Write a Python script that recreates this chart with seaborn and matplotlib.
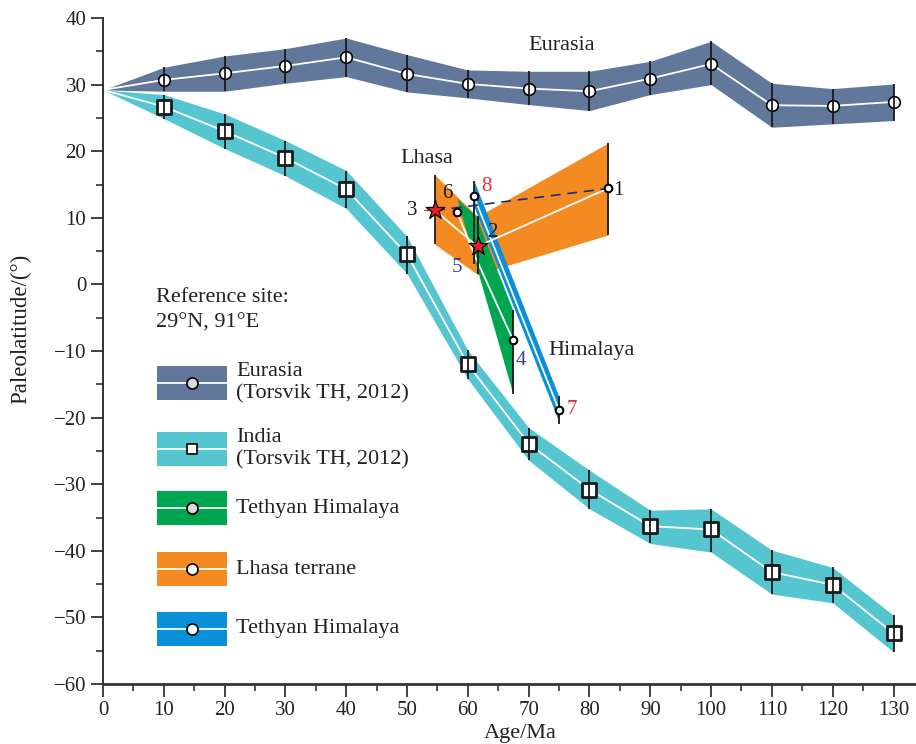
import numpy as np
import matplotlib
matplotlib.use("Agg")
import matplotlib.pyplot as plt
import seaborn as sns
from matplotlib.patches import Rectangle
from matplotlib.lines import Line2D

# ---------------- data ----------------
ages = [0, 10, 20, 30, 40, 50, 60, 70, 80, 90, 100, 110, 120, 130]

eurasia_lat = [29.2, 30.7, 31.7, 32.8, 34.1, 31.6, 30.1, 29.4, 29.0, 30.9, 33.1, 26.9, 26.8, 27.4]
eurasia_hi = [29.2, 32.6, 34.3, 35.4, 37.0, 34.5, 32.2, 32.0, 32.0, 33.5, 36.5, 30.2, 29.4, 30.1]
eurasia_lo = [29.2, 29.0, 29.0, 30.2, 31.2, 28.9, 28.0, 27.0, 26.1, 28.5, 30.0, 23.6, 24.1, 24.6]

india_lat = [29.2, 26.7, 23.0, 19.0, 14.3, 4.5, -12.0, -23.9, -30.8, -36.3, -36.8, -43.2, -45.1, -52.4]
india_hi = [29.2, 28.5, 25.6, 21.6, 17.1, 7.2, -9.9, -21.5, -27.9, -33.9, -33.7, -39.9, -42.5, -49.7]
india_lo = [29.2, 24.9, 20.4, 16.3, 11.4, 1.6, -14.2, -26.4, -33.7, -38.9, -40.2, -46.5, -47.8, -55.2]

# Lhasa terrane: sites 3, 2, 1
lhasa_age = [54.6, 61.6, 83.0]
lhasa_lat = [11.1, 5.7, 14.4]
lhasa_hi = [16.4, 10.2, 21.2]
lhasa_lo = [6.0, 1.5, 7.4]

# Tethyan Himalaya (green): sites 6, 5, 4
th_age = [58.2, 61.3, 67.4]
th_lat = [10.9, 4.0, -8.3]
th_hi = [12.9, 10.3, -3.9]
th_lo = [12.9, 3.0, -16.4]

# Tethyan Himalaya (blue): sites 8, 7
thb_age = [61.0, 75.0]
thb_lat = [13.2, -18.9]
thb_hi = [15.6, -16.9]
thb_lo = [11.7, -20.7]
thb_err_hi = [15.6, -16.7]
thb_err_lo = [3.1, -20.9]

C_EUR = "#61789a"
C_IND = "#55c5cf"
C_GRN = "#00a54f"
C_ORG = "#f48a22"
C_BLU = "#0a90d9"
C_NUM_BLUE = "#3a4196"
C_NUM_RED = "#ec2a36"
C_DASH = "#1d2b80"
C_ERR = "#1a1a1a"

# ---------------- style ----------------
sns.set_theme(style="ticks")
plt.rcParams["font.family"] = ["Liberation Serif", "DejaVu Serif"]
plt.rcParams["axes.unicode_minus"] = True

W, H = 916, 744
fig = plt.figure(figsize=(W / 100, H / 100), dpi=100)
ax = fig.add_axes([103 / W, 60 / H, 813 / W, 666 / H])
ax.set_xlim(0, 133.7)
ax.set_ylim(-60, 40)

# ---------------- bands ----------------
ax.fill_between(ages, india_lo, india_hi, color=C_IND, lw=0, zorder=1)
ax.fill_between(ages, eurasia_lo, eurasia_hi, color=C_EUR, lw=0, zorder=1)
ax.fill_between(lhasa_age, lhasa_lo, lhasa_hi, color=C_ORG, lw=0, zorder=2)
ax.fill_between(th_age, th_lo, th_hi, color=C_GRN, lw=0, zorder=3)
ax.fill_between(thb_age, thb_lo, thb_hi, color=C_BLU, lw=0, zorder=4)

# ---------------- mean paths ----------------
for x, y, z in [(ages, india_lat, 1.5), (ages, eurasia_lat, 1.5),
                (th_age, th_lat, 3.5), (thb_age, thb_lat, 4.5), (lhasa_age, lhasa_lat, 6)]:
    sns.lineplot(x=x, y=y, color="white", lw=1.3, sort=False, estimator=None,
                 ax=ax, zorder=z, legend=False)

ax.plot([lhasa_age[0], lhasa_age[2]], [lhasa_lat[0], lhasa_lat[2]], color=C_DASH,
        lw=1.2, ls=(0, (6, 4)), zorder=6.5)
# short stub left of site 3
ax.plot([lhasa_age[0] - 1.8, lhasa_age[0]], [lhasa_lat[0], lhasa_lat[0]],
        color="#7a4a4a", lw=0.9, zorder=6.5)

# ---------------- markers ----------------
sns.scatterplot(x=ages[1:], y=eurasia_lat[1:], marker="o", s=70, color="white",
                edgecolor="black", linewidth=1.2, ax=ax, zorder=5, legend=False)
sns.scatterplot(x=ages[1:], y=india_lat[1:], marker="s", s=90, color="white",
                edgecolor="#1a1a1a", linewidth=2.0, ax=ax, zorder=5, legend=False)

# error bars
ax.vlines(ages[1:], eurasia_lo[1:], eurasia_hi[1:], color=C_ERR, lw=1.3, zorder=5.5)
ax.vlines(ages[1:], india_lo[1:], india_hi[1:], color=C_ERR, lw=1.3, zorder=5.5)
ax.vlines(lhasa_age, lhasa_lo, lhasa_hi, color=C_ERR, lw=1.3, zorder=5.5)
ax.vlines(th_age[2], th_lo[2], th_hi[2], color=C_ERR, lw=1.3, zorder=5.5)
ax.vlines(thb_age, thb_err_lo, thb_err_hi, color=C_ERR, lw=1.3, zorder=5.5)

small = dict(marker="o", s=30, color="white", edgecolor="black", linewidth=1.5,
             ax=ax, zorder=7, legend=False)
sns.scatterplot(x=[lhasa_age[2]], y=[lhasa_lat[2]], **small)
sns.scatterplot(x=[th_age[0], th_age[2]], y=[th_lat[0], th_lat[2]], **small)
sns.scatterplot(x=thb_age, y=thb_lat, **small)
sns.scatterplot(x=lhasa_age[:2], y=lhasa_lat[:2], marker="*", s=200, color="#ee1c25",
                edgecolor="black", linewidth=0.9, ax=ax, zorder=8, legend=False)

# ---------------- site numbers ----------------
def tag(text, xy, dx, dy, color="#1a1a1a"):
    ax.annotate(text, xy=xy, xytext=(dx, dy), textcoords="offset pixels",
                ha="center", va="center", fontsize=15, color=color, zorder=9)

tag("1", (lhasa_age[2], lhasa_lat[2]), 11, -2)
tag("2", (lhasa_age[1], lhasa_lat[1]), 15, 14)
tag("3", (lhasa_age[0], lhasa_lat[0]), -23, 0)
tag("6", (th_age[0], th_lat[0]), -10, 18)
tag("5", (th_age[1], th_lat[1]), -19, -10, C_NUM_BLUE)
tag("4", (th_age[2], th_lat[2]), 8, -21, C_NUM_BLUE)
tag("8", (thb_age[0], thb_lat[0]), 13, 10, C_NUM_RED)
tag("7", (thb_age[1], thb_lat[1]), 13, 1, C_NUM_RED)

ax.text(53.3, 18.9, "Lhasa", fontsize=16, ha="center", va="center", color="#222222")
ax.text(80.3, -9.9, "Himalaya", fontsize=16, ha="center", va="center", color="#222222")
ax.text(75.5, 35.9, "Eurasia", fontsize=16, ha="center", va="center", color="#222222")

# ---------------- axes ----------------
ax.set_xticks(range(0, 131, 10))
ax.set_xticks(np.arange(5, 131, 10), minor=True)
ax.set_yticks(range(-60, 41, 10))
ax.set_yticks(np.arange(-55, 40, 10), minor=True)
ax.tick_params(which="major", direction="out", length=9, width=1.2, color="#222222",
               labelsize=15, labelcolor="#222222", pad=3)
ax.tick_params(which="minor", direction="out", length=5, width=1.1, color="#222222")
sns.despine(ax=ax)
ax.spines["left"].set_linewidth(1.3)
ax.spines["left"].set_color("#222222")
ax.spines["bottom"].set_linewidth(2.0)
ax.spines["bottom"].set_color("#333333")
ax.set_xlabel("Age/Ma", fontsize=16, color="#222222")
ax.set_ylabel("Paleolatitude/(°)", fontsize=16.5, color="#222222")
ax.xaxis.set_label_coords((520 - 103) / 813, (684 - 724) / 666)
ax.yaxis.set_label_coords((31 - 103) / 813, (684 - 329) / 666)

# ---------------- key ----------------
def fx(px):
    return px / W

def fy(py):
    return 1 - py / H

fig.text(fx(156), fy(297), "Reference site:", fontsize=16, va="center", ha="left", color="#222222")
fig.text(fx(156), fy(323), "29°N, 91°E", fontsize=16, va="center", ha="left", color="#222222")

key_entries = [
    (C_EUR, "o", "#d9d9d9", "Eurasia\n(Torsvik TH, 2012)", 366),
    (C_IND, "s", "white", "India\n(Torsvik TH, 2012)", 432),
    (C_GRN, "o", "#d9d9d9", "Tethyan Himalaya", 491),
    (C_ORG, "o", "white", "Lhasa terrane", 552),
    (C_BLU, "o", "white", "Tethyan Himalaya", 612),
]
for color, mk, mfc, label, top in key_entries:
    fig.add_artist(Rectangle((fx(157), fy(top + 34)), fx(70), 34 / H,
                             transform=fig.transFigure, color=color, lw=0))
    cy = fy(top + 17)
    fig.add_artist(Line2D([fx(157), fx(229)], [cy, cy], transform=fig.transFigure,
                          color="white", lw=1.3))
    fig.add_artist(Line2D([fx(192)], [cy], transform=fig.transFigure, marker=mk,
                          ms=8 if mk == "o" else 7.5, mfc=mfc, mec="black", mew=1.2))
    fig.text(fx(236), cy, label, fontsize=16, va="center", ha="left",
             color="#222222", linespacing=1.2)

fig.savefig("out.png", dpi=100)
